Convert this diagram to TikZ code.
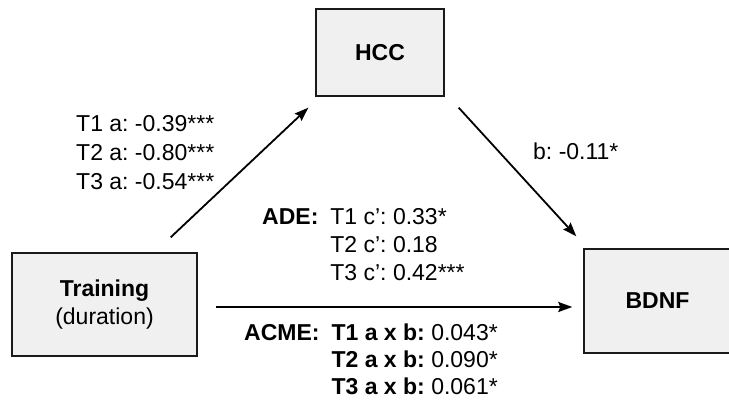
\documentclass[tikz,border=0pt]{standalone}
\usepackage{fontspec}
\setmainfont{Liberation Sans}
\usetikzlibrary{arrows.meta}
\definecolor{boxgray}{HTML}{F0F0F0}
\definecolor{boxline}{HTML}{1A1A1A}
\frenchspacing
\begin{document}
\begin{tikzpicture}[x=1pt, y=-1pt,
  font=\fontsize{23}{28}\selectfont,
  box/.style={draw=boxline, line width=1.4pt, fill=boxgray, inner sep=0pt, align=center},
  arr/.style={line width=1.8pt, -{Stealth[length=14pt, width=10pt, inset=2pt]}},
  lbl/.style={inner sep=0pt, anchor=base west}]
\useasboundingbox (0,0) rectangle (729,406);

% variables
\node[box, minimum width=128pt, minimum height=87pt] (hcc) at (380,52.5) {\textbf{HCC}};
\node[box, minimum width=185pt, minimum height=103pt] (train) at (104.5,304.5) {\textbf{Training}\\(duration)};
\node[box, minimum width=147pt, minimum height=104pt] (bdnf) at (657.5,301) {\textbf{BDNF}};

% paths a, b and c'
\draw[arr] ([xshift=-27pt, yshift=15pt]train.north east) -- ([xshift=-7pt, yshift=-11pt]hcc.south west);
\draw[arr] ([xshift=14pt, yshift=-11pt]hcc.south east) -- ([xshift=-7pt, yshift=12pt]bdnf.north west);
\coordinate (c0) at ([xshift=18pt, yshift=-2.5pt]train.east);
\coordinate (c1) at ([xshift=-11pt]bdnf.west);
\draw[arr] (c0) -- (c0 -| c1);

% coefficients
\node[lbl] (alab) at (76,132) {\fontsize{23}{29}\selectfont
  \begin{tabular}[t]{@{}l@{}}T1 a: -0.39***\\T2 a: -0.80***\\T3 a: -0.54***\end{tabular}};
\node[lbl] (blab) at (533,160) {b: -0.11*};
\node[lbl] (ade) at (262,225) {\fontsize{23}{28}\selectfont
  \begin{tabular}[t]{@{}r@{\hspace{12pt}}l@{}}
    \textbf{ADE:} & T1 c’: 0.33*\\
                  & T2 c’: 0.18\\
                  & T3 c’: 0.42***
  \end{tabular}};
\node[lbl] (acme) at (244,341) {\fontsize{23}{27}\selectfont
  \begin{tabular}[t]{@{}r@{\hspace{12pt}}l@{}}
    \textbf{ACME:} & \textbf{T1 a x b:} 0.043*\\
                   & \textbf{T2 a x b:} 0.090*\\
                   & \textbf{T3 a x b:} 0.061*
  \end{tabular}};
\end{tikzpicture}
\end{document}
